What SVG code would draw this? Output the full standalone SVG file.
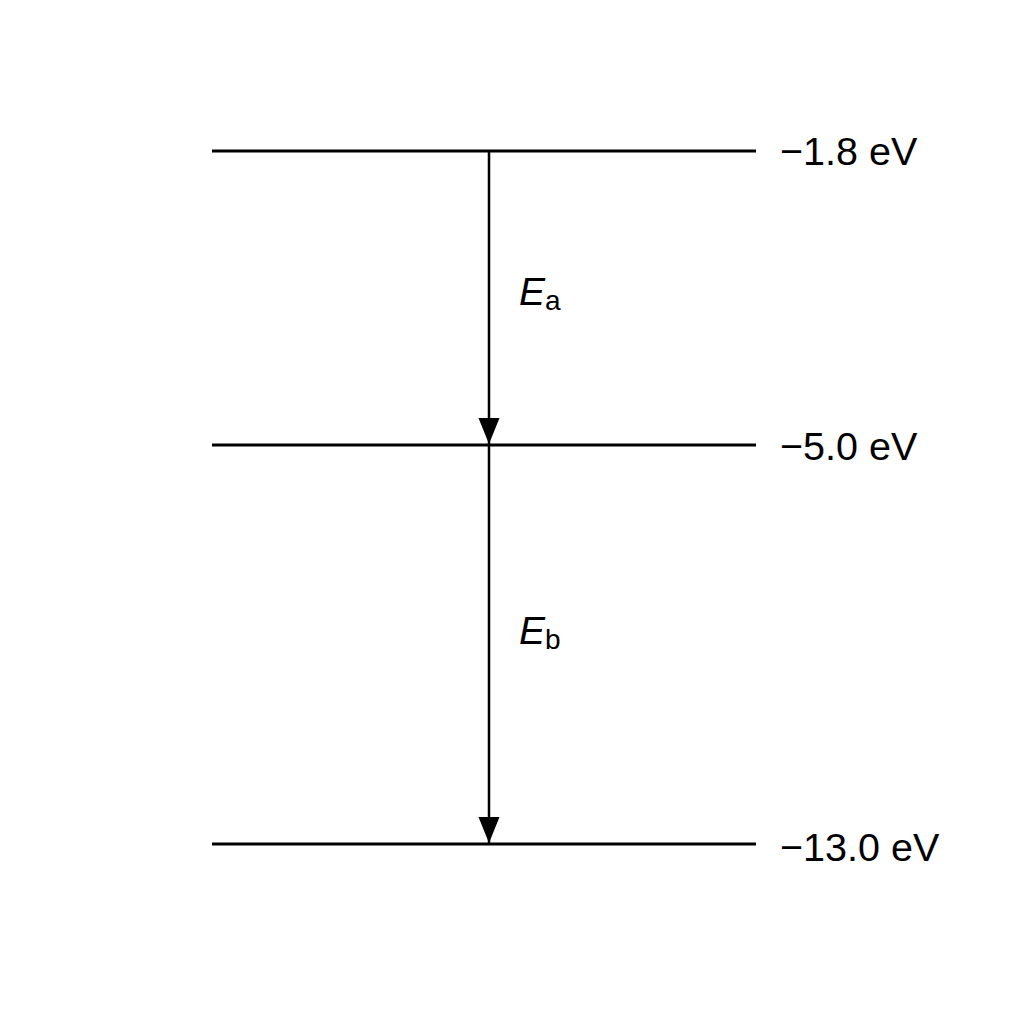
<svg xmlns="http://www.w3.org/2000/svg" width="1024" height="1024" viewBox="0 0 1024 1024">
<style>
.lvl{stroke:#000;stroke-width:3;fill:none}
.arr{stroke:#000;stroke-width:2.5;fill:none}
.lbl{font-family:"Liberation Sans",Arial,sans-serif;font-size:39.5px;fill:#000}
.sym{font-family:"Liberation Sans",Arial,sans-serif;font-size:39px;font-style:italic;fill:#000}
.sub{font-family:"Liberation Sans",Arial,sans-serif;font-size:28px;font-style:normal;fill:#000}
</style>
<defs>
<marker id="ah" markerUnits="userSpaceOnUse" markerWidth="28" markerHeight="22" refX="26" refY="10.5" orient="auto">
<path d="M0,0 L26,10.5 L0,21 Z" fill="#000"/>
</marker>
</defs>
<rect width="1024" height="1024" fill="#fff"/>
<g id="level1">
<line class="lvl" x1="212" y1="151" x2="756" y2="151"/>
<text class="lbl" x="780" y="165">−1.8 eV</text>
</g>
<g id="level2">
<line class="lvl" x1="212" y1="445" x2="756" y2="445"/>
<text class="lbl" x="780" y="460">−5.0 eV</text>
</g>
<g id="level3">
<line class="lvl" x1="212" y1="844" x2="756" y2="844"/>
<text class="lbl" x="780" y="861">−13.0 eV</text>
</g>
<g id="connectors">
<line class="arr" x1="489" y1="151" x2="489" y2="444" marker-end="url(#ah)"/>
<line class="arr" x1="489" y1="445" x2="489" y2="843" marker-end="url(#ah)"/>
</g>
<g id="labelEa">
<text class="sym" x="519" y="305">E<tspan class="sub" dy="5">a</tspan></text>
</g>
<g id="labelEb">
<text class="sym" x="519" y="644">E<tspan class="sub" dy="5">b</tspan></text>
</g>
</svg>
